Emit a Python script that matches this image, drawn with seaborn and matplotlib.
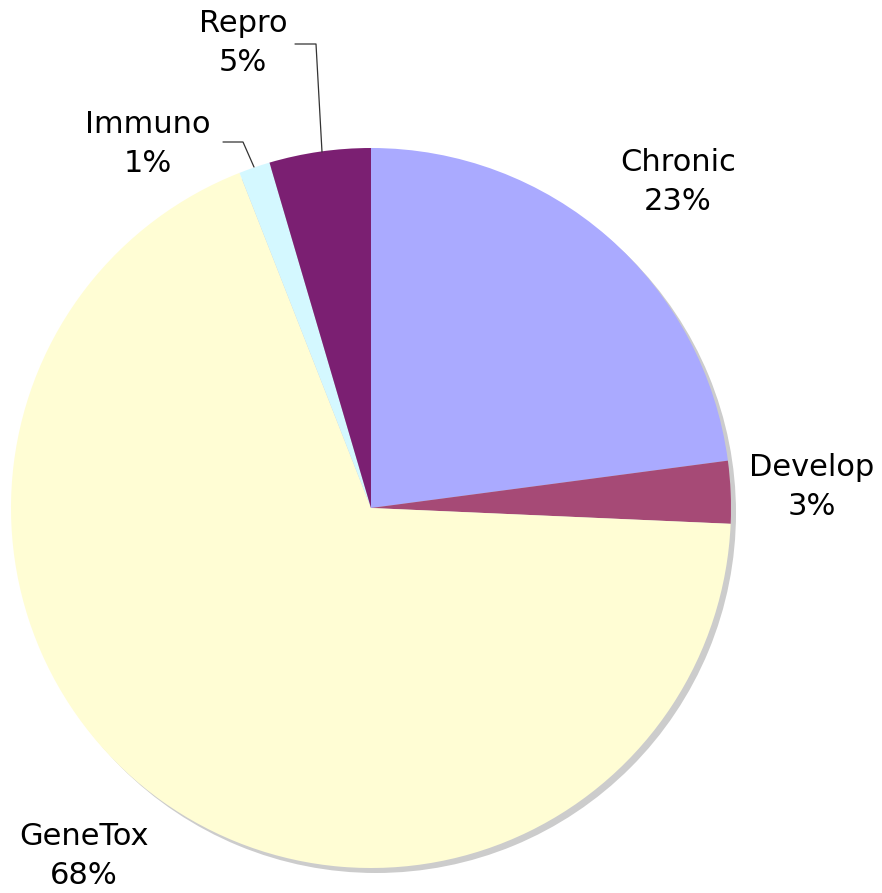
import numpy as np
import matplotlib
matplotlib.use('Agg')
import matplotlib.pyplot as plt
import seaborn as sns

# Data:
categories = ['Chronic', 'Develop', 'GeneTox', 'Immuno', 'Repro']
shares = [22.9, 2.8, 68.35, 1.4, 4.55]
sliceColors = ['#AAAAFF', '#A64A76', '#FFFDD4', '#D4F8FF', '#7B1F72']

# Label positions in pie units (radius = 1):
labelPos = [(0.853, 0.905), (1.225, 0.058), (-0.797, -0.967), (-0.62, 1.012), (-0.355, 1.292)]

sns.set_theme(style='white')
plt.rcParams['font.family'] = ['DejaVu Sans']

# One pixel in pie units:
px = 1.0 / 360.0
cx, cy = 371, 508

fig = plt.figure(figsize=(8.82, 8.93), dpi=100)
ax = fig.add_axes([0, 0, 1, 1])

# Gray drop shadow behind the pie:
ax.pie([sum(shares)], colors=['#CCCCCC'], radius=1.0, center=(5 * px, -5 * px),
       wedgeprops={'linewidth': 0})

# The pie itself:
wedges, _ = ax.pie(shares, colors=sliceColors, startangle=90, counterclock=False,
                   radius=1.0, wedgeprops={'linewidth': 0})

# Labels with percentages:
for name, val, (lx, ly) in zip(categories, shares, labelPos):
    ax.text(lx, ly, f'{name}\n{val:.0f}%', ha='center', va='center',
            fontsize=22, linespacing=1.45, color='black')

# Leader lines for the small slices (pixel coords converted):
def toData(pts):
    return [(x - cx) * px for x, y in pts], [(cy - y) * px for x, y in pts]

for pts in ([(322, 152), (316, 44), (295, 44)], [(254, 167), (243, 142), (223, 142)]):
    xs, ys = toData(pts)
    ax.plot(xs, ys, color='#333333', linewidth=0.9)

ax.set_aspect('auto')
ax.set_xlim(-cx * px, (882 - cx) * px)
ax.set_ylim((cy - 893) * px, cy * px)
ax.axis('off')

plt.savefig('out.png', dpi=100, facecolor='white')
